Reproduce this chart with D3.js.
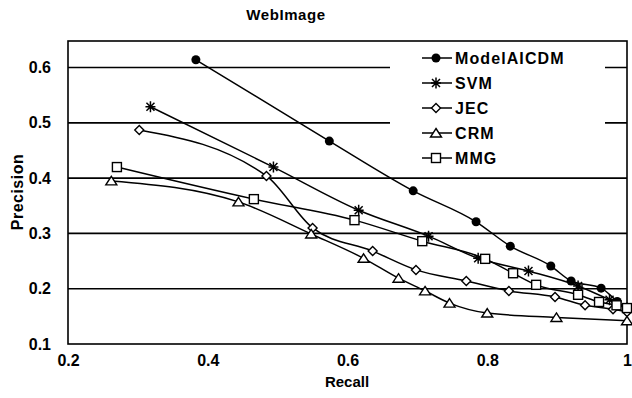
<!DOCTYPE html>
<html>
<head>
<meta charset="utf-8">
<script src="https://cdn.jsdelivr.net/npm/d3@7"></script>
<style>
  body { margin: 0; background: #fff; }
  text { font-family: "Liberation Sans", Arial, sans-serif; font-weight: bold; fill: #000; }
</style>
</head>
<body>
<svg id="chart" width="632" height="398"></svg>
<script>
// series values: [recall, precision]
const modelAICDM = [[0.383,0.614],[0.574,0.467],[0.694,0.377],[0.784,0.321],[0.833,0.277],[0.891,0.241],[0.92,0.214],[0.963,0.201],[0.986,0.177],[1.0,0.163]];
const svm = [[0.318,0.529],[0.494,0.42],[0.616,0.342],[0.716,0.295],[0.787,0.255],[0.859,0.232],[0.93,0.205],[0.975,0.18],[1.0,0.165]];
const jec = [[0.302,0.487],[0.484,0.404],[0.55,0.31],[0.636,0.268],[0.698,0.234],[0.77,0.214],[0.831,0.196],[0.897,0.185],[0.94,0.17],[0.98,0.163],[1.0,0.158]];
const crm = [[0.262,0.395],[0.444,0.357],[0.548,0.299],[0.623,0.255],[0.673,0.219],[0.711,0.196],[0.746,0.174],[0.8,0.156],[0.899,0.148],[1.0,0.142]];
const mmg = [[0.27,0.42],[0.466,0.362],[0.61,0.324],[0.707,0.286],[0.797,0.254],[0.837,0.228],[0.87,0.207],[0.93,0.189],[0.96,0.176],[0.985,0.17],[1.0,0.165]];

const seriesNames = ['ModelAICDM', 'SVM', 'JEC', 'CRM', 'MMG'];
const seriesData = [modelAICDM, svm, jec, crm, mmg];
const seriesMarks = ['circle', 'star', 'diamond', 'triangle', 'square'];

const xTicks = [0.2, 0.4, 0.6, 0.8, 1];
const yTicks = [0.1, 0.2, 0.3, 0.4, 0.5, 0.6];

const svg = d3.select('#chart');
const plotLeft = 68, plotRight = 627, plotTop = 41, plotBottom = 344;

const x = d3.scaleLinear().domain([0.2, 1]).range([plotLeft, plotRight]);
const y = d3.scaleLinear().domain([0.1, 0.648]).range([plotBottom, plotTop]);

// title
svg.append('text')
  .attr('x', 286).attr('y', 20)
  .attr('text-anchor', 'middle')
  .style('font-size', '15px')
  .style('letter-spacing', '0.6px')
  .text('WebImage');

// grid lines
svg.append('g')
  .selectAll('line')
  .data(yTicks.slice(1))
  .enter().append('line')
  .attr('x1', plotLeft).attr('x2', plotRight)
  .attr('y1', d => y(d)).attr('y2', d => y(d))
  .attr('stroke', '#000').attr('stroke-width', 1.6);

// frame
svg.append('rect')
  .attr('x', plotLeft).attr('y', plotTop)
  .attr('width', plotRight - plotLeft).attr('height', plotBottom - plotTop)
  .attr('fill', 'none').attr('stroke', '#000').attr('stroke-width', 1.6);

// axes (labels only, frame drawn above)
const xAxis = svg.append('g')
  .attr('transform', 'translate(0,' + plotBottom + ')')
  .call(d3.axisBottom(x).tickValues(xTicks).tickSize(0).tickPadding(11).tickFormat(d3.format('')));
xAxis.select('.domain').remove();
xAxis.selectAll('text').style('font-size', '16px').style('font-family', '"Liberation Sans", Arial, sans-serif');

const yAxis = svg.append('g')
  .attr('transform', 'translate(' + plotLeft + ',0)')
  .call(d3.axisLeft(y).tickValues(yTicks).tickSize(0).tickPadding(17).tickFormat(d3.format('.1f')));
yAxis.select('.domain').remove();
yAxis.selectAll('text').style('font-size', '16px').style('font-family', '"Liberation Sans", Arial, sans-serif');

svg.append('text')
  .attr('x', 347).attr('y', 387)
  .attr('text-anchor', 'middle')
  .style('font-size', '15px')
  .text('Recall');

svg.append('text')
  .attr('transform', 'translate(23,192) rotate(-90)')
  .attr('text-anchor', 'middle')
  .style('font-size', '16px')
  .style('letter-spacing', '0.5px')
  .text('Precision');

// lines
const line = d3.line()
  .x(d => x(d[0]))
  .y(d => y(d[1]))
  .curve(d3.curveMonotoneX);

svg.append('g')
  .selectAll('path')
  .data(seriesData)
  .enter().append('path')
  .attr('d', line)
  .attr('fill', 'none')
  .attr('stroke', '#000')
  .attr('stroke-width', 1.5);

function drawMark(g, type) {
  if (type === 'circle') {
    g.append('circle').attr('r', 4.5).attr('fill', '#000');
  } else if (type === 'star') {
    g.append('path')
      .attr('d', 'M-5,0H5M0,-5.5V5.5M-4,-4L4,4M-4,4L4,-4')
      .attr('stroke', '#000').attr('stroke-width', 1.5);
  } else if (type === 'diamond') {
    g.append('path').attr('d', 'M0,-4.5L4.5,0L0,4.5L-4.5,0Z')
      .attr('fill', '#fff').attr('stroke', '#000').attr('stroke-width', 1.4);
  } else if (type === 'triangle') {
    g.append('path').attr('d', 'M0,-4.5L5.5,4H-5.5Z')
      .attr('fill', '#fff').attr('stroke', '#000').attr('stroke-width', 1.4);
  } else {
    g.append('rect').attr('x', -4.5).attr('y', -4.5).attr('width', 9).attr('height', 9)
      .attr('fill', '#fff').attr('stroke', '#000').attr('stroke-width', 1.4);
  }
}

seriesData.forEach((data, i) => {
  svg.append('g')
    .selectAll('g')
    .data(data)
    .enter().append('g')
    .attr('transform', d => 'translate(' + x(d[0]) + ',' + y(d[1]) + ')')
    .each(function() { drawMark(d3.select(this), seriesMarks[i]); });
});

// legend
const legend = svg.append('g');
legend.append('rect')
  .attr('x', 390).attr('y', 43)
  .attr('width', 215).attr('height', 127)
  .attr('fill', '#fff');

const entry = legend.selectAll('g')
  .data(seriesNames)
  .enter().append('g')
  .attr('transform', (d, i) => 'translate(422,' + (58 + i * 25) + ')');
entry.append('line')
  .attr('x1', 0).attr('x2', 30)
  .attr('stroke', '#000').attr('stroke-width', 1.5);
entry.each(function(d, i) {
  const g = d3.select(this).append('g').attr('transform', 'translate(14,0)');
  drawMark(g, seriesMarks[i]);
});
entry.append('text')
  .attr('x', 33).attr('y', 5.5)
  .style('font-size', '16px')
  .style('letter-spacing', '1.1px')
  .text(d => d);
</script>
</body>
</html>
